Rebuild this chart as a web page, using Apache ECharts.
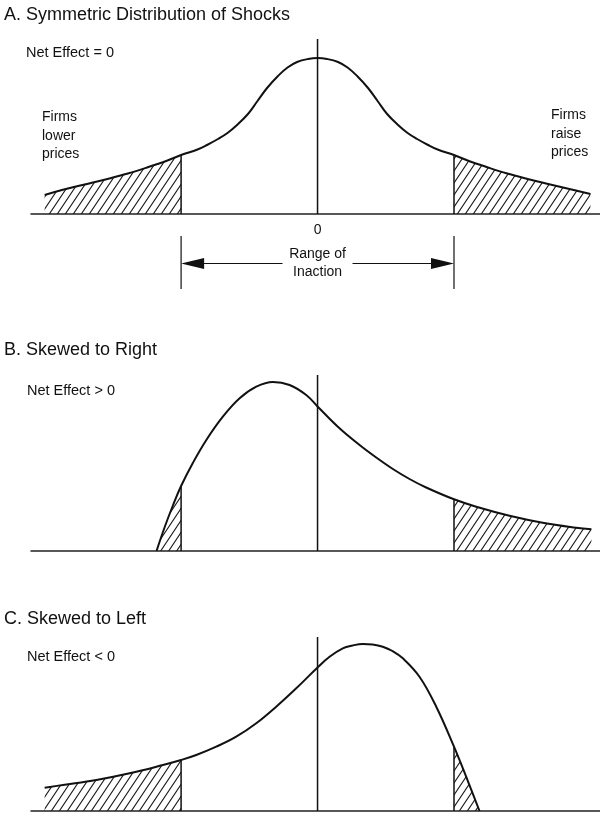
<!DOCTYPE html>
<html>
<head>
<meta charset="utf-8">
<title>Distribution of Shocks</title>
<script src="https://cdn.jsdelivr.net/npm/echarts@6/dist/echarts.min.js"></script>
<style>
  html, body { margin: 0; padding: 0; background: #fff; }
  #main { width: 600px; height: 813px; }
</style>
</head>
<body>
<div id="main"></div>
<script>
// shock size (price-change thresholds at -1 and 1) vs density
var curveA = [[-2.0, 0.19], [-1.83, 0.255], [-1.69, 0.30], [-1.54, 0.35], [-1.39, 0.405], [-1.25, 0.465],
  [-1.1, 0.535], [-1.0, 0.59], [-0.88, 0.645], [-0.81, 0.69], [-0.73, 0.75], [-0.66, 0.81],
  [-0.59, 0.89], [-0.51, 1.0], [-0.44, 1.13], [-0.37, 1.26], [-0.29, 1.38], [-0.22, 1.465],
  [-0.15, 1.52], [-0.07, 1.55], [0, 1.56], [0.07, 1.55], [0.15, 1.52], [0.22, 1.465],
  [0.29, 1.38], [0.37, 1.26], [0.44, 1.13], [0.51, 1.0], [0.59, 0.89], [0.66, 0.81],
  [0.73, 0.75], [0.81, 0.69], [0.88, 0.645], [1.0, 0.59], [1.1, 0.535], [1.25, 0.465],
  [1.39, 0.405], [1.54, 0.35], [1.69, 0.30], [1.83, 0.255], [2.0, 0.20]];
var curveB = [[-1.18, 0], [-1.12, 0.24], [-1.06, 0.455], [-1.0, 0.65], [-0.914, 0.88], [-0.815, 1.11],
  [-0.694, 1.343], [-0.571, 1.527], [-0.449, 1.643], [-0.327, 1.69], [-0.205, 1.66], [-0.083, 1.56],
  [0, 1.445], [0.161, 1.227], [0.308, 1.06], [0.43, 0.935], [0.552, 0.82], [0.674, 0.72],
  [0.796, 0.635], [1.0, 0.517], [1.163, 0.443], [1.407, 0.353], [1.65, 0.283], [1.895, 0.233],
  [2.007, 0.217]];
var curveC = [[-2.0, 0.233], [-1.866, 0.26], [-1.621, 0.31], [-1.377, 0.377], [-1.133, 0.46], [-1.0, 0.51],
  [-0.889, 0.56], [-0.742, 0.643], [-0.596, 0.743], [-0.449, 0.877], [-0.303, 1.043], [-0.156, 1.227],
  [0, 1.435], [0.088, 1.543], [0.185, 1.627], [0.256, 1.655], [0.332, 1.67], [0.403, 1.665],
  [0.478, 1.643], [0.549, 1.60], [0.625, 1.527], [0.747, 1.343], [0.87, 1.043], [1.0, 0.643],
  [1.089, 0.343], [1.187, 0]];
var thresholds = [-1, 1];
var centerTop = [1.75, 1.76, 1.74];
var panelTitles = ['A. Symmetric Distribution of Shocks', 'B. Skewed to Right', 'C. Skewed to Left'];
var netEffect = ['Net Effect = 0', 'Net Effect > 0', 'Net Effect < 0'];
var zeroTick = [0];

var ink = '#111';
var fontFamily = '"Liberation Sans", Arial, Helvetica, sans-serif';

// diagonal hatching for the tails (about 56 degrees, 8px apart)
function hatchPattern() {
    var w = 8, h = 12;
    var c = document.createElement('canvas');
    c.width = w;
    c.height = h;
    var ctx = c.getContext('2d');
    ctx.strokeStyle = '#1a1a1a';
    ctx.lineWidth = 1.1;
    ctx.beginPath();
    [-w, 0, w].forEach(function (dx) {
        ctx.moveTo(dx - 1, h + 1.5);
        ctx.lineTo(dx + w + 1, -1.5);
    });
    ctx.stroke();
    return c;
}
var hatch = { image: hatchPattern(), repeat: 'repeat' };

var curves = [curveA, curveB, curveC];
var gridTops = [34, 371, 631];

var grids = [], xAxes = [], yAxes = [], series = [];
curves.forEach(function (curve, i) {
    grids.push({ left: 31, right: 0, top: gridTops[i], height: 180 });
    xAxes.push({
        type: 'value', gridIndex: i, min: -2.1, max: 2.07,
        axisLine: { show: true, onZero: false, lineStyle: { color: '#222', width: 1.5 } },
        axisTick: { show: false },
        splitLine: { show: false },
        axisLabel: i === 0 ? {
            show: true, customValues: zeroTick, margin: 9,
            color: ink, fontSize: 14, fontFamily: fontFamily
        } : { show: false }
    });
    yAxes.push({ type: 'value', gridIndex: i, min: 0, max: 1.8, show: false });

    var line = { type: 'line', xAxisIndex: i, yAxisIndex: i, showSymbol: false, silent: true, animation: false };
    // hatched tails
    series.push(Object.assign({}, line, {
        data: curve.filter(function (p) { return p[0] <= thresholds[0]; }),
        smooth: 0.4, lineStyle: { width: 0 }, areaStyle: { color: hatch, opacity: 1 }, z: 1
    }));
    series.push(Object.assign({}, line, {
        data: curve.filter(function (p) { return p[0] >= thresholds[1]; }),
        smooth: 0.4, lineStyle: { width: 0 }, areaStyle: { color: hatch, opacity: 1 }, z: 1
    }));
    // the density curve
    series.push(Object.assign({}, line, {
        data: curve, smooth: 0.4, lineStyle: { color: ink, width: 2 }, z: 4
    }));
    // threshold verticals up to the curve
    thresholds.forEach(function (t) {
        var h = curve.find(function (p) { return p[0] === t; })[1];
        series.push(Object.assign({}, line, {
            data: [[t, 0], [t, h]], lineStyle: { color: ink, width: 1.5 }, z: 3
        }));
    });
    // zero line
    series.push(Object.assign({}, line, {
        data: [[0, 0], [0, centerTop[i]]], lineStyle: { color: ink, width: 1.5 }, z: 3
    }));
});

function txt(text, x, y, size, align, extra) {
    return {
        type: 'text', x: x, y: y, silent: true,
        style: Object.assign({
            text: text, fill: ink, font: size + 'px ' + fontFamily,
            textAlign: align || 'left', textVerticalAlign: 'middle'
        }, extra || {})
    };
}

var graphics = [
    txt(panelTitles[0], 4, 15, 18),
    txt(panelTitles[1], 4, 350, 18),
    txt(panelTitles[2], 4, 619.5, 18),
    txt(netEffect[0], 26, 52.5, 14.5),
    txt(netEffect[1], 27, 391, 14.5),
    txt(netEffect[2], 27, 657, 14.5),
    txt('Firms\nlower\nprices', 42, 108, 14, 'left', { textVerticalAlign: 'top', lineHeight: 18.5 }),
    txt('Firms\nraise\nprices', 551, 106, 14, 'left', { textVerticalAlign: 'top', lineHeight: 18.5 })
];

var chart = echarts.init(document.getElementById('main'), null, { renderer: 'canvas' });
chart.setOption({
    animation: false,
    backgroundColor: '#fff',
    grid: grids,
    xAxis: xAxes,
    yAxis: yAxes,
    series: series
});

// range of inaction bracket under panel A
var xl = chart.convertToPixel({ xAxisIndex: 0 }, thresholds[0]);
var xr = chart.convertToPixel({ xAxisIndex: 0 }, thresholds[1]);
var xm = chart.convertToPixel({ xAxisIndex: 0 }, 0);
var ay = 263.5;
var thin = { stroke: ink, lineWidth: 1.2 };
graphics.push(
    { type: 'line', shape: { x1: xl, y1: 236, x2: xl, y2: 289 }, style: thin },
    { type: 'line', shape: { x1: xr, y1: 236, x2: xr, y2: 289 }, style: thin },
    { type: 'line', shape: { x1: xl + 22, y1: ay, x2: xm - 35, y2: ay }, style: thin },
    { type: 'line', shape: { x1: xm + 35, y1: ay, x2: xr - 22, y2: ay }, style: thin },
    { type: 'polygon', shape: { points: [[xl, ay], [xl + 23, ay - 5.5], [xl + 23, ay + 5.5]] }, style: { fill: ink } },
    { type: 'polygon', shape: { points: [[xr, ay], [xr - 23, ay - 5.5], [xr - 23, ay + 5.5]] }, style: { fill: ink } },
    txt('Range of', xm, 254.5, 14, 'center'),
    txt('Inaction', xm, 272, 14, 'center')
);
chart.setOption({ graphic: graphics });
</script>
</body>
</html>
